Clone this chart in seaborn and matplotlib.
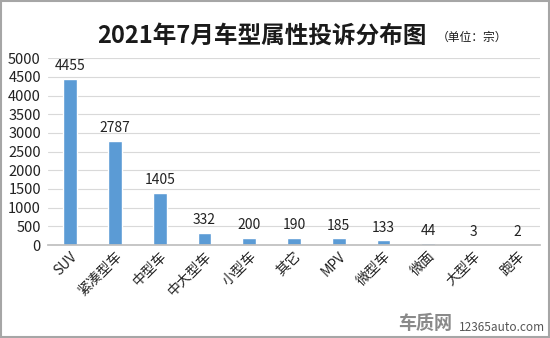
import matplotlib
matplotlib.use("Agg")
import matplotlib.pyplot as plt
import seaborn as sns
import pandas as pd
from matplotlib.patches import Rectangle

categories = ["SUV", "紧凑型车", "中型车", "中大型车", "小型车", "其它", "MPV", "微型车", "微面", "大型车", "跑车"]
values = [4455, 2787, 1405, 332, 200, 190, 185, 133, 44, 3, 2]
yticks = [0, 500, 1000, 1500, 2000, 2500, 3000, 3500, 4000, 4500, 5000]

sns.set_theme(style="white")
plt.rcParams['font.family'] = ['Noto Sans CJK SC', 'DejaVu Sans']

df = pd.DataFrame({"cat": categories, "val": values})

fig = plt.figure(figsize=(5.5, 3.38), dpi=100)
ax = fig.add_axes([0.087, 0.275, 0.895, 0.553])
sns.barplot(data=df, x="cat", y="val", color="#5B9BD5", saturation=1, width=0.31, ax=ax)

ax.set_ylim(0, 5000)
ax.set_yticks(yticks)
ax.set_yticklabels([str(t) for t in yticks], fontsize=10.5, color="#222222")
ax.yaxis.grid(True, color="#D9D9D9", linewidth=0.8)
ax.set_axisbelow(True)
for s in ["top", "right", "left"]:
    ax.spines[s].set_visible(False)
ax.spines["bottom"].set_color("#BFBFBF")
ax.tick_params(axis="y", length=0, pad=5)
ax.tick_params(axis="x", length=0, pad=3)
ax.set_xlabel("")
ax.set_ylabel("")
ax.set_xticks(range(len(categories)))
ax.set_xticklabels(categories, rotation=45, ha="right", rotation_mode="anchor", fontsize=10, color="#222222")
ax.set_xlim(-0.5, len(categories) - 0.5)

for i, v in enumerate(values):
    ax.annotate(str(v), (i, v), xytext=(0, 4), textcoords="offset points",
                ha="center", va="bottom", fontsize=10, color="#222222")

fig.text(0.477, 0.895, "2021年7月车型属性投诉分布图", ha="center", va="center",
         fontsize=17, fontweight="bold", color="#1a1a1a")
fig.text(0.858, 0.888, "（单位：宗）", ha="center", va="center", fontsize=8.5, color="#1a1a1a")

fig.text(0.773, 0.044, "车质网", ha="center", va="center", fontsize=13, fontweight="bold", color="#8a8a8a")
fig.text(0.913, 0.03, "12365auto.com", ha="center", va="center", fontsize=8.5, color="#555555")

fig.patches.append(Rectangle((0.001, 0.002), 0.997, 0.995, transform=fig.transFigure,
                             fill=False, edgecolor="#A6A6A6", linewidth=1.5))

fig.savefig("out.png", dpi=100)
